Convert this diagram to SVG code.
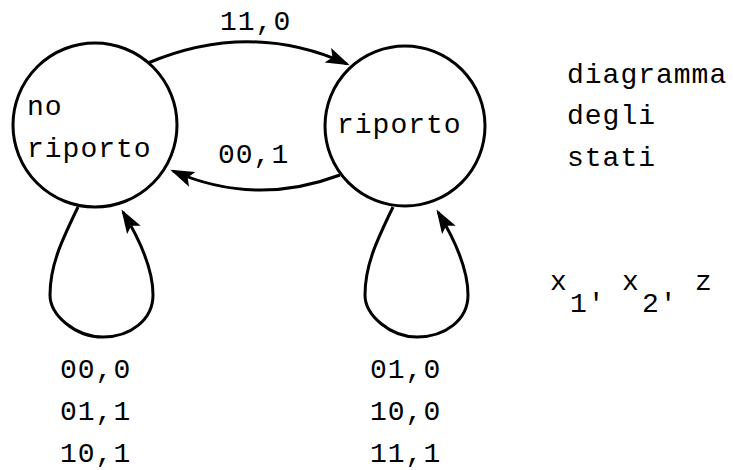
<svg xmlns="http://www.w3.org/2000/svg" width="733" height="470" viewBox="0 0 733 470">
  <style>
    .state { fill: #fff; stroke: #000; stroke-width: 3; }
    .edge { fill: none; stroke: #000; stroke-width: 3; }
    text { font-family: "Liberation Mono", "Courier New", monospace; font-size: 28px; letter-spacing: 1px; fill: #000; }
  </style>
  <defs>
    <marker id="arrow" markerUnits="userSpaceOnUse" markerWidth="26" markerHeight="18" refX="21" refY="8" orient="auto">
      <path d="M0,0 L24,8 L0,16 L5,8 z" fill="#000"/>
    </marker>
  </defs>

  <!-- transitions -->
  <g id="edges">
    <path class="edge" d="M148,63 Q250,20 347,64" marker-end="url(#arrow)"/>
    <path class="edge" d="M340,175 Q255,207 173,171" marker-end="url(#arrow)"/>
    <path class="edge" d="M78,207 C62,240 50,265 50,295 C50,315 75,337 103,337 C130,337 153,320 153,295 C153,270 140,240 123,212" marker-end="url(#arrow)"/>
    <path class="edge" d="M393,207 C377,240 365,265 365,295 C365,315 390,337 417,337 C445,337 468,320 468,295 C468,270 455,240 438,212" marker-end="url(#arrow)"/>
  </g>

  <g id="labels">
    <text x="220" y="30">11,0</text>
    <text x="218" y="163">00,1</text>
    <text x="60" y="378">00,0</text>
    <text x="60" y="420">01,1</text>
    <text x="60" y="462">10,1</text>
    <text x="370" y="378">01,0</text>
    <text x="370" y="420">10,0</text>
    <text x="370" y="462">11,1</text>
  </g>

  <g id="no-riporto">
    <circle class="state" cx="95" cy="125" r="82"/>
    <text x="27" y="115">no</text>
    <text x="27" y="157">riporto</text>
  </g>

  <g id="riporto">
    <circle class="state" cx="405" cy="126" r="80"/>
    <text x="337" y="133">riporto</text>
  </g>

  <g id="legend">
    <text x="567" y="83">diagramma</text>
    <text x="567" y="124">degli</text>
    <text x="567" y="166">stati</text>
    <text y="290"><tspan x="550">x</tspan><tspan x="570" y="312">1′</tspan><tspan x="622" y="290">x</tspan><tspan x="642" y="312">2′</tspan><tspan x="695" y="290">z</tspan></text>
  </g>
</svg>
